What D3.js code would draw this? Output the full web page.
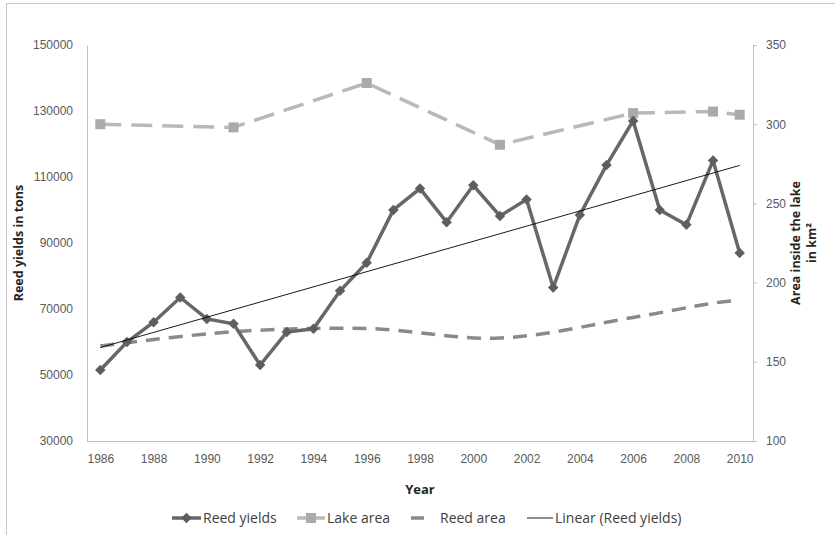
<!DOCTYPE html>
<html>
<head>
<meta charset="utf-8">
<script src="https://cdn.jsdelivr.net/npm/d3@7"></script>
<style>
  html, body { margin: 0; padding: 0; background: #fff; }
  svg { display: block; font-family: "Open Sans", "Noto Sans", sans-serif; }
</style>
</head>
<body>
<svg id="chart" width="835" height="535"></svg>
<script>
// ---- data ----
const years = d3.range(1986, 2011);
const reedYields = [51500, 60000, 66000, 73500, 67000, 65500, 53000, 63000, 64000, 75500,
                    84000, 100000, 106500, 96300, 107500, 98200, 103200, 76500, 98500, 113600,
                    127000, 100000, 95500, 115000, 87000];
const lakeYears = [1986, 1991, 1996, 2001, 2006, 2009, 2010];
const lakeArea  = [300, 298, 326, 287, 307, 308, 306];
const reedAreaYears = [1986, 1991, 1996, 2001, 2006, 2009, 2010];
const reedArea  = [160, 169, 171, 165, 178, 187, 189];
const leftTicks  = [30000, 50000, 70000, 90000, 110000, 130000, 150000];
const rightTicks = [100, 150, 200, 250, 300, 350];
const xTickYears = d3.range(1986, 2011, 2);
const legendLabels = ["Reed yields", "Lake area", "Reed area", "Linear (Reed yields)"];

// ---- layout ----
const svg = d3.select("#chart");
const L = 87, R = 753, T = 45, B = 441;

svg.append("rect").attr("x", 6.5).attr("y", 3.5).attr("width", 900).attr("height", 600)
  .attr("fill", "#fff").attr("stroke", "#c8c8c8");

const x = d3.scalePoint().domain(years).range([L, R]).padding(0.5);
const yL = d3.scaleLinear().domain([30000, 150000]).range([B, T]);
const yR = d3.scaleLinear().domain([100, 350]).range([B, T]);

const axisColor = "#bfbfbf";
const tickColor = "#595959";

// left axis
const gL = svg.append("g").attr("transform", `translate(${L},0)`)
  .call(d3.axisLeft(yL).tickValues(leftTicks).tickSize(0).tickPadding(14).tickFormat(d3.format("d")));
gL.select(".domain").attr("stroke", axisColor);
gL.selectAll("text").attr("font-size", 12).attr("fill", tickColor);

// right axis
const gR = svg.append("g").attr("transform", `translate(${R},0)`)
  .call(d3.axisRight(yR).tickValues(rightTicks).tickSize(4).tickSizeOuter(0).tickPadding(9));
gR.select(".domain").attr("stroke", axisColor);
gR.selectAll(".tick line").attr("stroke", axisColor);
gR.selectAll("text").attr("font-size", 12).attr("fill", tickColor);

// bottom axis
const gB = svg.append("g").attr("transform", `translate(0,${B})`)
  .call(d3.axisBottom(x).tickValues(xTickYears).tickSize(0).tickPadding(13));
gB.select(".domain").attr("stroke", axisColor).attr("d", `M${L},0.5H${R + 4}`);
gB.selectAll("text").attr("font-size", 12).attr("fill", tickColor);

// axis titles
svg.append("text").attr("transform", `translate(23,${(T + B) / 2}) rotate(-90)`)
  .attr("text-anchor", "middle").attr("font-size", 12.5).attr("font-weight", "bold")
  .attr("fill", "#262626").text("Reed yields in tons");
const rt = svg.append("text").attr("transform", `translate(803,${(T + B) / 2}) rotate(-90)`)
  .attr("text-anchor", "middle").attr("font-size", 12.5).attr("font-weight", "bold")
  .attr("fill", "#262626");
rt.append("tspan").attr("x", 0).attr("dy", -3).text("Area inside the lake");
rt.append("tspan").attr("x", 0).attr("dy", 16).text("in km²");
svg.append("text").attr("x", (L + R) / 2).attr("y", 494).attr("text-anchor", "middle")
  .attr("font-size", 13).attr("font-weight", "bold").attr("fill", "#262626").text("Year");

// colours
const cYield = "#676767", cLake = "#b9b9b9", cReedA = "#8a8a8a";

// reed area (smoothed dashed)
const reedAreaPts = reedAreaYears.map((yr, i) => [x(yr), yR(reedArea[i])]);
svg.append("path").attr("d", d3.line().curve(d3.curveCatmullRom.alpha(0.5))(reedAreaPts))
  .attr("fill", "none").attr("stroke", cReedA).attr("stroke-width", 3.5)
  .attr("stroke-dasharray", "14,9");

// lake area (dashed with squares)
const lakePts = lakeYears.map((yr, i) => [x(yr), yR(lakeArea[i])]);
svg.append("path").attr("d", d3.line()(lakePts))
  .attr("fill", "none").attr("stroke", cLake).attr("stroke-width", 3.5)
  .attr("stroke-dasharray", "21,10");
svg.selectAll(".lakeM").data(lakePts).enter().append("rect")
  .attr("x", d => d[0] - 5).attr("y", d => d[1] - 5).attr("width", 10).attr("height", 10)
  .attr("fill", "#aaaaaa");

// reed yields
const yieldPts = years.map((yr, i) => [x(yr), yL(reedYields[i])]);
svg.append("path").attr("d", d3.line()(yieldPts))
  .attr("fill", "none").attr("stroke", cYield).attr("stroke-width", 3.5);
const diamond = d3.symbol().type(d3.symbolDiamond2).size(70);
svg.selectAll(".yM").data(yieldPts).enter().append("path")
  .attr("transform", d => `translate(${d[0]},${d[1]})`).attr("d", diamond())
  .attr("fill", "#5e5e5e");

// linear trend of reed yields (least squares)
const n = years.length;
const mx = d3.mean(years), my = d3.mean(reedYields);
const sxy = d3.sum(years, (yr, i) => (yr - mx) * (reedYields[i] - my));
const sxx = d3.sum(years, yr => (yr - mx) ** 2);
const slope = sxy / sxx, icpt = my - slope * mx;
svg.append("line")
  .attr("x1", x(years[0])).attr("y1", yL(icpt + slope * years[0]))
  .attr("x2", x(years[n - 1])).attr("y2", yL(icpt + slope * years[n - 1]))
  .attr("stroke", "#000").attr("stroke-width", 0.9);

// legend
const ly = 518;
const lg = svg.append("g").attr("font-size", 14).attr("fill", "#404040");
// Reed yields
lg.append("line").attr("x1", 172).attr("x2", 201).attr("y1", ly).attr("y2", ly)
  .attr("stroke", cYield).attr("stroke-width", 3.5);
lg.append("path").attr("transform", `translate(186.5,${ly})`).attr("d", diamond()).attr("fill", "#5e5e5e");
lg.append("text").attr("x", 203).attr("y", ly + 5).text(legendLabels[0]);
// Lake area
lg.append("line").attr("x1", 297).attr("x2", 325).attr("y1", ly).attr("y2", ly)
  .attr("stroke", cLake).attr("stroke-width", 3.5);
lg.append("rect").attr("x", 306).attr("y", ly - 5).attr("width", 10).attr("height", 10).attr("fill", "#aaaaaa");
lg.append("text").attr("x", 327).attr("y", ly + 5).text(legendLabels[1]);
// Reed area
lg.append("line").attr("x1", 411).attr("x2", 424).attr("y1", ly).attr("y2", ly)
  .attr("stroke", cReedA).attr("stroke-width", 3.5);
lg.append("text").attr("x", 440).attr("y", ly + 5).text(legendLabels[2]);
// Linear
lg.append("line").attr("x1", 527).attr("x2", 553).attr("y1", ly).attr("y2", ly)
  .attr("stroke", "#000").attr("stroke-width", 0.9);
lg.append("text").attr("x", 555).attr("y", ly + 5).text(legendLabels[3]);
</script>
</body>
</html>
